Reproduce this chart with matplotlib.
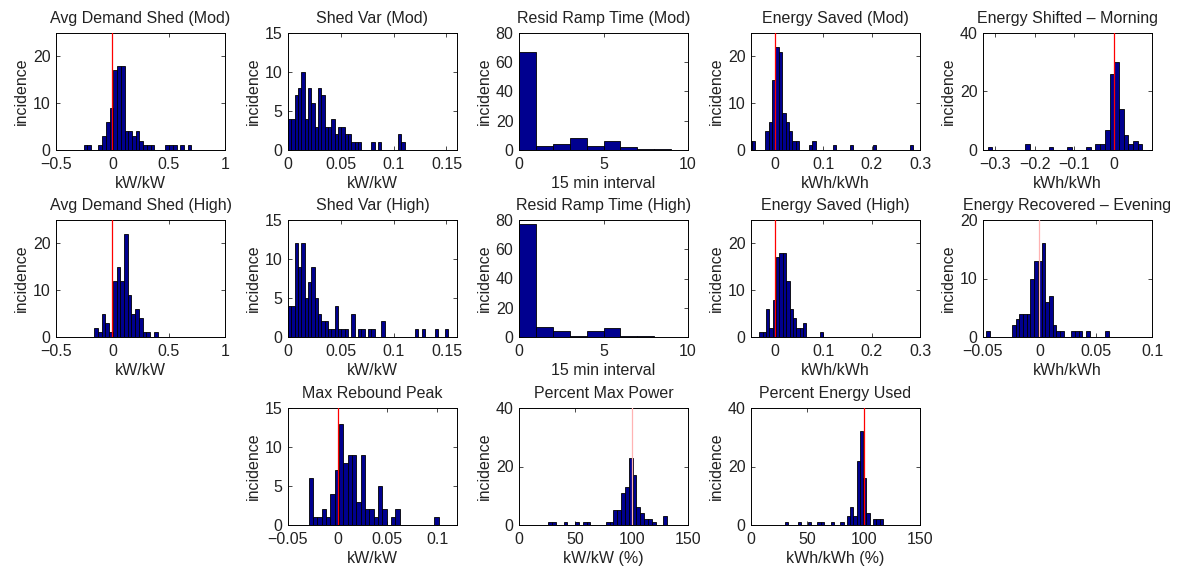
import numpy as np
import matplotlib.pyplot as plt
from matplotlib.ticker import FuncFormatter

plt.rcParams['font.family'] = ['Liberation Sans', 'DejaVu Sans']
plt.rcParams['font.size'] = 11.5

# histogram counts per bin, with first bin edge and bin width
shed_mod_counts = [1, 1, 0, 0, 1, 3, 6, 9, 17, 18, 18, 4, 4, 3, 4, 2, 1, 1, 1,
                   0, 0, 0, 1, 1, 1, 0, 1, 0, 1]
shed_mod_start, shed_mod_width = -0.255, 0.033

var_mod_counts = [4, 4, 7, 8, 10, 4, 8, 6, 3, 8, 7, 3, 3, 4, 2, 3, 3, 2, 2, 1,
                  1, 1, 0, 0, 0, 1, 0, 1, 0, 0, 0, 0, 0, 2, 1]
var_mod_start, var_mod_width = 0.0, 0.00316

ramp_mod_counts = [67, 3, 4, 8, 3, 6, 2, 1, 1]
ramp_mod_start, ramp_mod_width = 0, 1

saved_mod_counts = [2, 2, 0, 0, 0, 4, 6, 15, 22, 21, 8, 6, 4, 2, 2, 0, 0, 0, 1, 2,
                    0, 0, 0, 0, 0, 1, 0, 0, 0, 0, 1, 0, 0, 0, 0, 0, 0, 1, 0, 0,
                    0, 0, 0, 0, 0, 0, 0, 0, 1]
saved_mod_start, saved_mod_width = -0.0551, 0.00697

morning_counts = [1, 0, 0, 0, 0, 0, 0, 0, 2, 0, 0, 0, 0, 1, 0, 0, 0, 1, 0, 0,
                  0, 1, 0, 2, 2, 7, 26, 30, 14, 5, 2, 3, 2]
morning_start, morning_width = -0.3186, 0.0118

shed_high_counts = [2, 1, 5, 3, 1, 12, 15, 12, 22, 9, 5, 6, 4, 1, 1, 0, 1]
shed_high_start, shed_high_width = -0.16, 0.033

var_high_counts = [4, 4, 12, 9, 12, 5, 7, 9, 5, 3, 2, 2, 1, 1, 4, 1, 1, 1, 0, 3,
                   0, 1, 1, 0, 1, 1, 0, 0, 2, 0, 0, 0, 0, 0, 0, 0, 0, 0, 1, 0,
                   1, 0, 0, 0, 1, 0, 0, 1]
var_high_start, var_high_width = 0.0, 0.00316

ramp_high_counts = [77, 7, 4, 1, 4, 6, 1, 1, 0]
ramp_high_start, ramp_high_width = 0, 1

saved_high_counts = [1, 1, 6, 2, 8, 17, 18, 18, 12, 6, 4, 2, 2, 3, 0, 0, 0, 0, 1]
saved_high_start, saved_high_width = -0.0328, 0.00697

evening_counts = [1, 0, 0, 0, 0, 0, 0, 2, 3, 4, 4, 4, 10, 13, 13, 16, 6, 7, 2, 1,
                  1, 0, 0, 1, 1, 1, 0, 1, 0, 0, 0, 0, 1]
evening_start, evening_width = -0.0475, 0.0033

rebound_counts = [6, 1, 1, 2, 1, 4, 7, 13, 8, 9, 9, 3, 9, 2, 2, 1, 5, 2, 0, 1,
                  2, 0, 0, 0, 0, 0, 0, 0, 0, 1]
rebound_start, rebound_width = -0.0292, 0.00436

pmax_counts = [1, 1, 0, 0, 1, 0, 0, 1, 0, 1, 1, 0, 0, 0, 0, 1, 1, 5, 5, 11,
               13, 23, 17, 6, 4, 2, 2, 1, 0, 0, 3]
pmax_start, pmax_width = 26.0, 3.4

penergy_counts = [1, 0, 0, 0, 1, 0, 0, 1, 0, 0, 1, 1, 0, 0, 1, 0, 0, 1, 0, 3,
                  6, 3, 22, 32, 16, 4, 0, 2, 2, 2]
penergy_start, penergy_width = 30.0, 2.9

BAR_COLOR = '#00008f'
TEXT_COLOR = '#222222'


def matlab_fmt(v, pos):
    return ('%g' % v).replace('-', '\u2212')


def draw_hist(ax, start, width, counts, title, xlabel, xlim, xticks, ylim, yticks,
              ref=None, ref_color='red'):
    edges = start + width * np.arange(len(counts))
    ax.bar(edges, counts, width=width, align='edge', color=BAR_COLOR,
           edgecolor='black', linewidth=0.6, zorder=2)
    if ref is not None:
        ax.axvline(ref, color=ref_color, linewidth=0.9, zorder=3)
    ax.set_xlim(xlim)
    ax.set_ylim(ylim)
    ax.set_xticks(xticks)
    ax.set_yticks(yticks)
    ax.xaxis.set_major_formatter(FuncFormatter(matlab_fmt))
    ax.yaxis.set_major_formatter(FuncFormatter(matlab_fmt))
    ax.tick_params(direction='in', top=True, right=True, length=3, width=0.5,
                   labelsize=11.5, labelcolor=TEXT_COLOR)
    ax.tick_params(axis='x', pad=5)
    ax.tick_params(axis='y', pad=4)
    for s in ax.spines.values():
        s.set_linewidth(0.7)
    ax.set_title(title, fontsize=11.5, pad=7, color=TEXT_COLOR)
    ax.set_xlabel(xlabel, fontsize=11.5, labelpad=3, color=TEXT_COLOR)
    ax.set_ylabel('incidence', fontsize=11.5, labelpad=3, color=TEXT_COLOR)


fig = plt.figure(figsize=(11.82, 5.70), dpi=100)

col_left = [56, 288, 519, 751, 983]
row_top = [33, 220, 408]
ax_w, ax_h = 169, 117


def add_ax(row, col):
    l = col_left[col]
    t = row_top[row]
    return fig.add_axes([l / 1182, 1 - (t + ax_h) / 570, ax_w / 1182, ax_h / 570])


# row 1: moderate scenario
draw_hist(add_ax(0, 0), shed_mod_start, shed_mod_width, shed_mod_counts,
          'Avg Demand Shed (Mod)', 'kW/kW', (-0.5, 1), [-0.5, 0, 0.5, 1],
          (0, 25), [0, 10, 20], ref=0)
draw_hist(add_ax(0, 1), var_mod_start, var_mod_width, var_mod_counts,
          'Shed Var (Mod)', 'kW/kW', (0, 0.16), [0, 0.05, 0.1, 0.15],
          (0, 15), [0, 5, 10, 15])
draw_hist(add_ax(0, 2), ramp_mod_start, ramp_mod_width, ramp_mod_counts,
          'Resid Ramp Time (Mod)', '15 min interval', (0, 10), [0, 5, 10],
          (0, 80), [0, 20, 40, 60, 80])
draw_hist(add_ax(0, 3), saved_mod_start, saved_mod_width, saved_mod_counts,
          'Energy Saved (Mod)', 'kWh/kWh', (-0.05, 0.3), [0, 0.1, 0.2, 0.3],
          (0, 25), [0, 10, 20], ref=0)
draw_hist(add_ax(0, 4), morning_start, morning_width, morning_counts,
          'Energy Shifted \u2013 Morning', 'kWh/kWh', (-0.33, 0.095),
          [-0.3, -0.2, -0.1, 0], (0, 40), [0, 20, 40], ref=0)

# row 2: high scenario
draw_hist(add_ax(1, 0), shed_high_start, shed_high_width, shed_high_counts,
          'Avg Demand Shed (High)', 'kW/kW', (-0.5, 1), [-0.5, 0, 0.5, 1],
          (0, 25), [0, 10, 20], ref=0)
draw_hist(add_ax(1, 1), var_high_start, var_high_width, var_high_counts,
          'Shed Var (High)', 'kW/kW', (0, 0.16), [0, 0.05, 0.1, 0.15],
          (0, 15), [0, 5, 10, 15])
draw_hist(add_ax(1, 2), ramp_high_start, ramp_high_width, ramp_high_counts,
          'Resid Ramp Time (High)', '15 min interval', (0, 10), [0, 5, 10],
          (0, 80), [0, 20, 40, 60, 80])
draw_hist(add_ax(1, 3), saved_high_start, saved_high_width, saved_high_counts,
          'Energy Saved (High)', 'kWh/kWh', (-0.05, 0.3), [0, 0.1, 0.2, 0.3],
          (0, 25), [0, 10, 20], ref=0)
draw_hist(add_ax(1, 4), evening_start, evening_width, evening_counts,
          'Energy Recovered \u2013 Evening', 'kWh/kWh', (-0.05, 0.1),
          [-0.05, 0, 0.05, 0.1], (0, 20), [0, 10, 20], ref=0,
          ref_color='#ffb3b3')

# row 3: rebound and percentages
draw_hist(add_ax(2, 1), rebound_start, rebound_width, rebound_counts,
          'Max Rebound Peak', 'kW/kW', (-0.05, 0.12), [-0.05, 0, 0.05, 0.1],
          (0, 15), [0, 5, 10, 15], ref=0)
draw_hist(add_ax(2, 2), pmax_start, pmax_width, pmax_counts,
          'Percent Max Power', 'kW/kW (%)', (0, 150), [0, 50, 100, 150],
          (0, 40), [0, 20, 40], ref=100, ref_color='#ffb3b3')
draw_hist(add_ax(2, 3), penergy_start, penergy_width, penergy_counts,
          'Percent Energy Used', 'kWh/kWh (%)', (0, 150), [0, 50, 100, 150],
          (0, 40), [0, 20, 40], ref=100)

fig.savefig('out.png', dpi=100)
